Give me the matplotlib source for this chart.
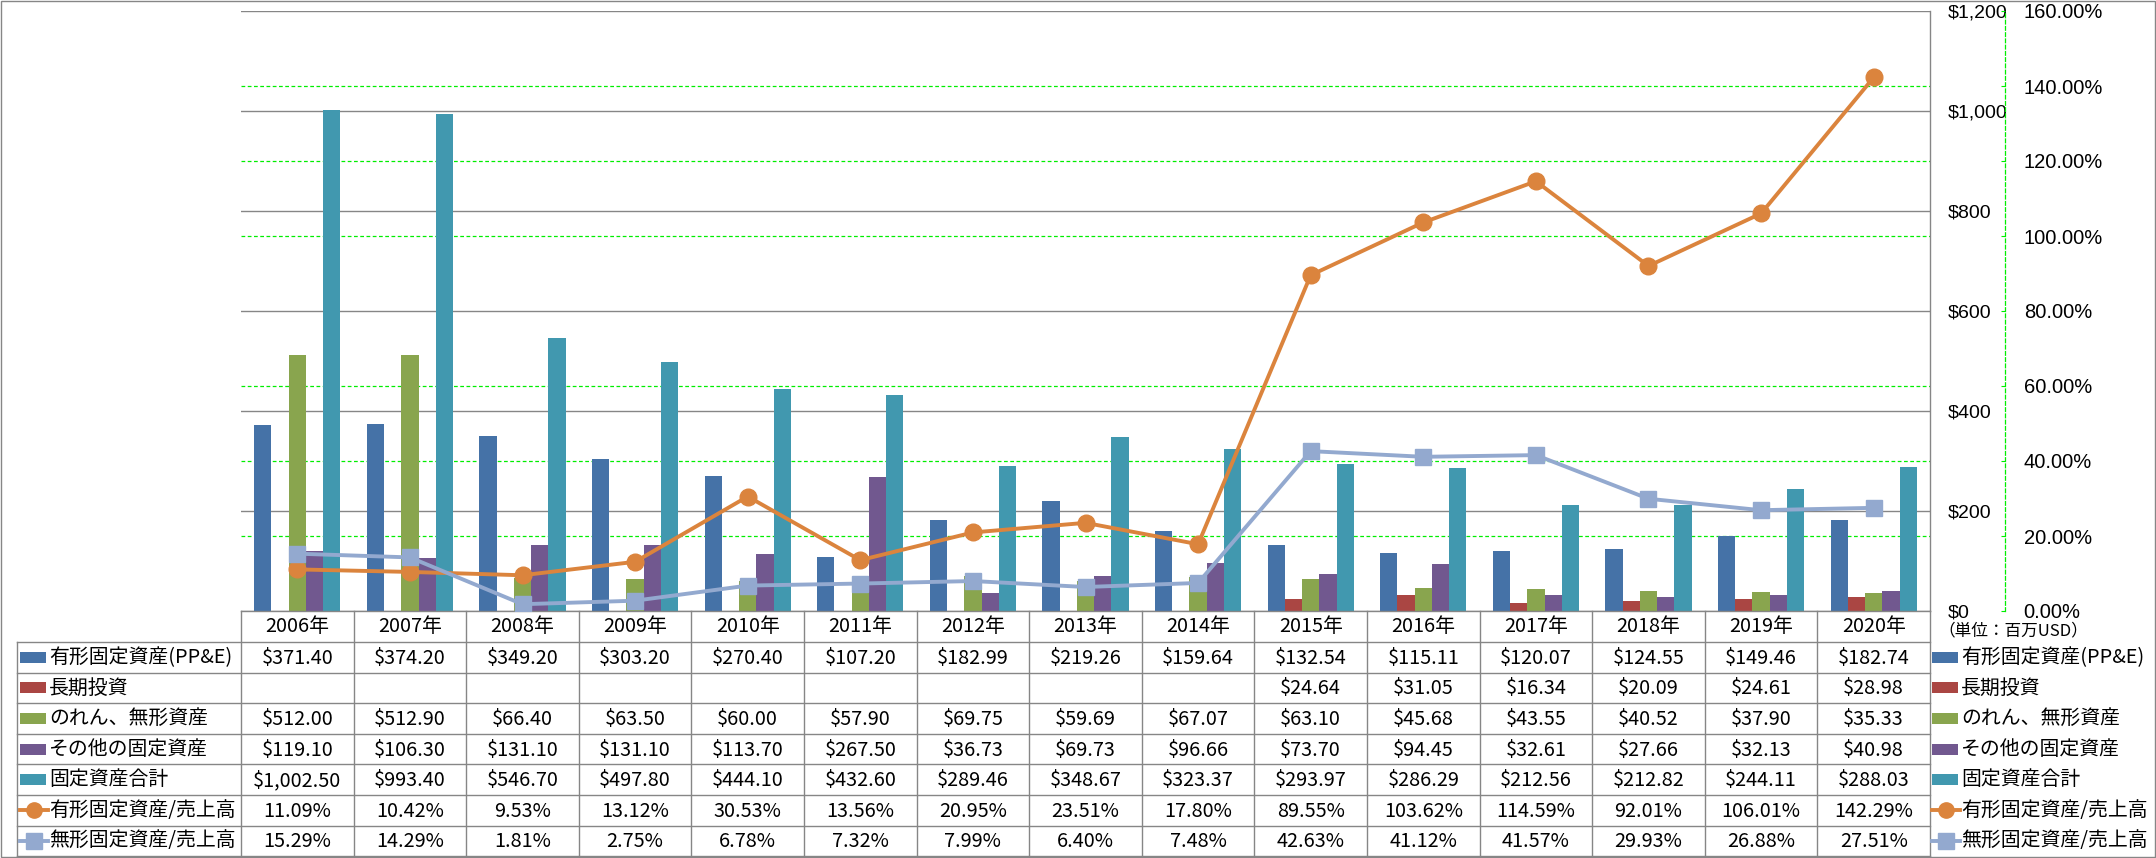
import numpy as np
import matplotlib
matplotlib.use("Agg")
import matplotlib.pyplot as plt
from matplotlib.patches import Rectangle

# data (単位: 百万USD)
years = ["2006年", "2007年", "2008年", "2009年", "2010年", "2011年", "2012年", "2013年",
         "2014年", "2015年", "2016年", "2017年", "2018年", "2019年", "2020年"]
ppe = [371.40, 374.20, 349.20, 303.20, 270.40, 107.20, 182.99, 219.26,
       159.64, 132.54, 115.11, 120.07, 124.55, 149.46, 182.74]
lt_invest = [np.nan] * 9 + [24.64, 31.05, 16.34, 20.09, 24.61, 28.98]
goodwill = [512.00, 512.90, 66.40, 63.50, 60.00, 57.90, 69.75, 59.69,
            67.07, 63.10, 45.68, 43.55, 40.52, 37.90, 35.33]
other = [119.10, 106.30, 131.10, 131.10, 113.70, 267.50, 36.73, 69.73,
         96.66, 73.70, 94.45, 32.61, 27.66, 32.13, 40.98]
total = [1002.50, 993.40, 546.70, 497.80, 444.10, 432.60, 289.46, 348.67,
         323.37, 293.97, 286.29, 212.56, 212.82, 244.11, 288.03]
ppe_ratio = [11.09, 10.42, 9.53, 13.12, 30.53, 13.56, 20.95, 23.51,
             17.80, 89.55, 103.62, 114.59, 92.01, 106.01, 142.29]
intang_ratio = [15.29, 14.29, 1.81, 2.75, 6.78, 7.32, 7.99, 6.40,
                7.48, 42.63, 41.12, 41.57, 29.93, 26.88, 27.51]

bar_names = ["有形固定資産(PP&E)", "長期投資", "のれん、無形資産", "その他の固定資産", "固定資産合計"]
line_names = ["有形固定資産/売上高", "無形固定資産/売上高"]
bar_colors = ["#4572A7", "#AA4643", "#89A54E", "#71588F", "#4198AF"]
line_colors = ["#DB843D", "#93A9CF"]
line_markers = ["o", "s"]

FONT = ["Liberation Sans Narrow", "Noto Sans CJK JP"]
GRAY = "#868686"
GREEN = "#00EE00"
TXT = 14.3

W, H = 2156, 858
fig = plt.figure(figsize=(W / 100, H / 100), dpi=100)
ax = fig.add_axes([241 / W, (H - 611) / H, (1930 - 241) / W, 600 / H])

x = np.arange(len(years))
bw = 0.153
bar_series = [ppe, lt_invest, goodwill, other, total]
for k, vals in enumerate(bar_series):
    ax.bar(x + (k - 2) * bw, vals, width=bw, color=bar_colors[k], zorder=2)

ax.set_xlim(-0.5, len(years) - 0.5)
ax.set_ylim(0, 1200)
ax.set_yticks(np.arange(0, 1201, 200))
ax.yaxis.set_major_formatter(lambda v, p: f"${v:,.0f}")
ax.set_xticks([])
for s in ["left", "top"]:
    ax.spines[s].set_visible(False)
for s in ["right", "bottom"]:
    ax.spines[s].set_color(GRAY)
    ax.spines[s].set_linewidth(1.0)

# secondary axis for ratios
ax2 = ax.twinx()
ax2.set_ylim(0, 1.6)
ax2.set_yticks(np.arange(0, 1.61, 0.2))
ax2.yaxis.set_major_formatter(lambda v, p: f"{v * 100:.2f}%")
ax2.tick_params(axis="y", direction="in", length=3, color=GREEN, pad=13.5, labelsize=14.5)
for s in ["left", "top", "bottom"]:
    ax2.spines[s].set_visible(False)
ax2.spines["right"].set_position(("outward", 54))
ax2.spines["right"].set_color(GREEN)
ax2.spines["right"].set_linestyle((0, (3, 2)))
ax2.spines["right"].set_linewidth(0.9)
for lab in ax2.get_yticklabels():
    lab.set_fontfamily("Liberation Sans")

# $ labels also sit on the right (twinx moves them left, so set after)
ax.yaxis.tick_right()
ax.tick_params(axis="y", which="major", length=0, pad=13, labelsize=14,
               labelleft=False, labelright=True)
for lab in ax.get_yticklabels():
    lab.set_fontfamily("Liberation Sans")

for vals, c, m in zip([ppe_ratio, intang_ratio], line_colors, line_markers):
    ax2.plot(x, np.array(vals) / 100, color=c, lw=2.8, marker=m,
             ms=12 if m == "o" else 11, mec=c, mfc=c, zorder=3)

# gridlines: gray for $ axis, green dashed for % axis (drawn under bars)
scale = ax.get_ylim()[1] / ax2.get_ylim()[1]
ax.set_yticks(ax2.get_yticks()[1:-1] * scale, minor=True)
ax.tick_params(axis="y", which="minor", length=0)
ax.grid(which="major", axis="y", color=GRAY, lw=1.0)
ax.grid(which="minor", axis="y", color=GREEN, lw=0.9, ls=(0, (3, 2)))
ax.set_axisbelow(True)

# data table + legend drawn in pixel coordinates
ov = fig.add_axes([0, 0, 1, 1])
ov.set_xlim(0, W)
ov.set_ylim(H, 0)
ov.axis("off")

edges = [ax.transData.transform((i - 0.5, 0))[0] for i in range(len(years) + 1)]
centers = [ax.transData.transform((i, 0))[0] for i in range(len(years))]
plot_bottom = H - ax.transAxes.transform((0, 0))[1]
header_bottom = plot_bottom + 31
row_h = 30.6
n_rows = len(bar_names) + len(line_names)
table_bottom = header_bottom + n_rows * row_h
label_left = 17

for xe in edges:
    ov.plot([xe, xe], [plot_bottom, table_bottom], color=GRAY, lw=1.0)
ov.plot([label_left, label_left], [header_bottom, table_bottom], color=GRAY, lw=1.0)
for r in range(n_rows + 1):
    yy = header_bottom + r * row_h
    ov.plot([label_left, edges[-1]], [yy, yy], color=GRAY, lw=1.0)

for cx, yr in zip(centers, years):
    ov.text(cx, (plot_bottom + header_bottom) / 2, yr, ha="center", va="center",
            fontsize=TXT, family=FONT)

all_names = bar_names + line_names
all_vals = bar_series + [ppe_ratio, intang_ratio]
for r, (name, vals) in enumerate(zip(all_names, all_vals)):
    cy = header_bottom + (r + 0.5) * row_h
    for cx, v in zip(centers, vals):
        if np.isnan(v):
            continue
        s = f"${v:,.2f}" if r < len(bar_names) else f"{v:.2f}%"
        ov.text(cx, cy + 1, s, ha="center", va="center", fontsize=TXT, family=FONT)
    for x0 in [label_left + 3, edges[-1] + 2]:
        if r < len(bar_names):
            ov.add_patch(Rectangle((x0, cy - 5.5), 26, 11, color=bar_colors[r], lw=0))
        else:
            li = r - len(bar_names)
            ov.plot([x0, x0 + 28], [cy, cy], color=line_colors[li], lw=2.8)
            ov.plot([x0 + 14], [cy], marker=line_markers[li], ms=11,
                    color=line_colors[li], mec=line_colors[li])
        ov.text(x0 + 29, cy, name, ha="left", va="center", fontsize=TXT, family=FONT)

ov.text(edges[-1] + 8, plot_bottom + 20, "（単位：百万USD）", ha="left", va="center",
        fontsize=12, family=["Noto Sans CJK JP"])

ov.add_patch(Rectangle((0.5, 0.5), W - 1.5, H - 1.5, fill=False, ec=GRAY, lw=1.0))

fig.savefig("out.png", dpi=100)
